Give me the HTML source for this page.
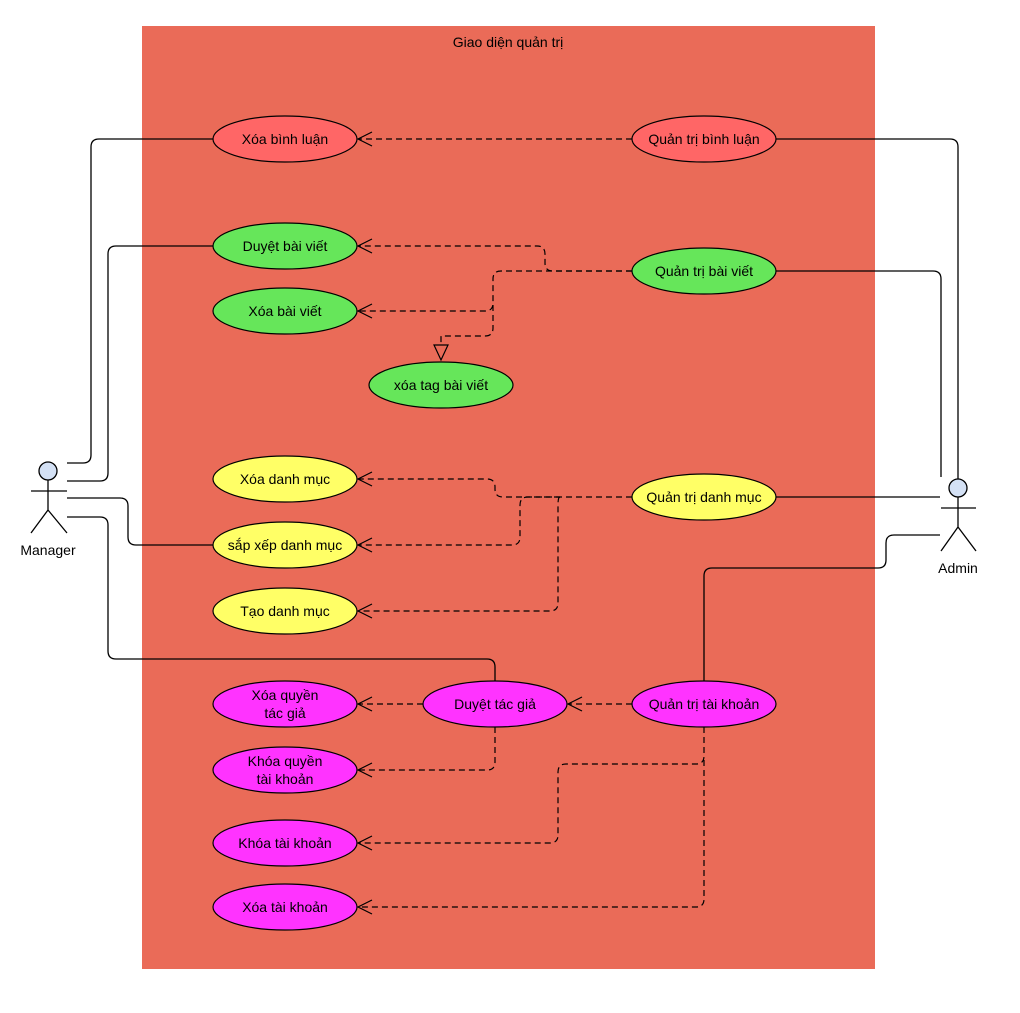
<!DOCTYPE html>
<html><head><meta charset="utf-8"><style>body{margin:0;background:#fff}svg{display:block}text{font-family:"Liberation Sans","DejaVu Sans",sans-serif;font-size:14px;text-anchor:middle}</style></head><body>
<svg width="1020" height="1013" viewBox="0 0 1020 1013" xmlns="http://www.w3.org/2000/svg">
<defs><marker id="a" markerWidth="20" markerHeight="20" refX="16" refY="8" orient="auto" markerUnits="userSpaceOnUse"><path d="M2,1 L16,8 L2,15" fill="none" stroke="#000" stroke-width="1.2" stroke-dasharray="none"/></marker></defs>
<rect x="142" y="26" width="733" height="943" fill="#EA6B58"/>
<text x="508" y="47" font-size="13">Giao diện quản trị</text>
<g fill="none" stroke="#000" stroke-width="1.3">
<path d="M67,463 H83 Q91,463 91,455 V147 Q91,139 99,139 H213"/>
<path d="M67,481 H100 Q108,481 108,473 V254 Q108,246 116,246 H213"/>
<path d="M67,498 H120 Q128,498 128,506 V537 Q128,545 136,545 H213"/>
<path d="M67,517 H100 Q108,517 108,525 V651 Q108,659 116,659 H487 Q495,659 495,667 V681"/>
<path d="M941,477 V279 Q941,271 933,271 H776"/>
<path d="M958,479 V147 Q958,139 950,139 H776"/>
<path d="M940,497 H776"/>
<path d="M940,535 H894 Q886,535 886,543 V560 Q886,568 878,568 H712 Q704,568 704,576 V681"/>
</g>
<g stroke="#000" stroke-width="1.2">
<g fill="#FF6666"><ellipse cx="285" cy="139" rx="72" ry="23"/><ellipse cx="704" cy="139" rx="72" ry="23"/></g>
<g fill="#66E65A"><ellipse cx="285" cy="246" rx="72" ry="23"/><ellipse cx="285" cy="311" rx="72" ry="23"/><ellipse cx="441" cy="385" rx="72" ry="23"/><ellipse cx="704" cy="271" rx="72" ry="23"/></g>
<g fill="#FFFF66"><ellipse cx="285" cy="479" rx="72" ry="23"/><ellipse cx="285" cy="545" rx="72" ry="23"/><ellipse cx="285" cy="611" rx="72" ry="23"/><ellipse cx="704" cy="497" rx="72" ry="23"/></g>
<g fill="#FF33FF"><ellipse cx="285" cy="704" rx="72" ry="23"/><ellipse cx="495" cy="704" rx="72" ry="23"/><ellipse cx="704" cy="704" rx="72" ry="23"/><ellipse cx="285" cy="770" rx="72" ry="23"/><ellipse cx="285" cy="843" rx="72" ry="23"/><ellipse cx="285" cy="907" rx="72" ry="23"/></g>
</g>
<g fill="none" stroke="#000" stroke-width="1.2" stroke-dasharray="6,4">
<path d="M632,139 H358" marker-end="url(#a)"/>
<path d="M632,271 H553 Q545,271 545,263 V254 Q545,246 537,246 H358" marker-end="url(#a)"/>
<path d="M632,271 H501 Q493,271 493,279 V303 Q493,311 485,311 H358" marker-end="url(#a)"/>
<path d="M493,305 V328 Q493,336 485,336 H441 V344"/>
<path d="M632,497 H503 Q495,497 495,489 V487 Q495,479 487,479 H358" marker-end="url(#a)"/>
<path d="M560,497 H528 Q520,497 520,505 V537 Q520,545 512,545 H358" marker-end="url(#a)"/>
<path d="M560,497 Q558,497 558,505 V603 Q558,611 550,611 H358" marker-end="url(#a)"/>
<path d="M632,704 H568" marker-end="url(#a)"/>
<path d="M423,704 H358" marker-end="url(#a)"/>
<path d="M495,727 V762 Q495,770 487,770 H358" marker-end="url(#a)"/>
<path d="M704,727 V756 Q704,764 696,764 H566 Q558,764 558,772 V835 Q558,843 550,843 H358" marker-end="url(#a)"/>
<path d="M704,760 V899 Q704,907 696,907 H358" marker-end="url(#a)"/>
</g>
<path d="M434,345 L448,345 L441,360 Z" fill="none" stroke="#000" stroke-width="1.2"/>
<g>
<text x="285" y="144">Xóa bình luận</text><text x="704" y="144">Quản trị bình luận</text>
<text x="285" y="251">Duyệt bài viết</text><text x="285" y="316">Xóa bài viết</text><text x="441" y="390">xóa tag bài viết</text><text x="704" y="276">Quản trị bài viết</text>
<text x="285" y="484">Xóa danh mục</text><text x="285" y="550">sắp xếp danh mục</text><text x="285" y="616">Tạo danh mục</text><text x="704" y="502">Quản trị danh mục</text>
<text x="285" y="700">Xóa quyền</text><text x="285" y="718">tác giả</text><text x="495" y="709">Duyệt tác giả</text><text x="704" y="709">Quản trị tài khoản</text>
<text x="285" y="766">Khóa quyền</text><text x="285" y="784">tài khoản</text><text x="285" y="848">Khóa tài khoản</text><text x="285" y="912">Xóa tài khoản</text>
</g>
<g stroke="#000" stroke-width="1.3" fill="none">
<circle cx="48" cy="471" r="9" fill="#D4E1F5"/><path d="M48,480 V510 M31,491 H67 M48,510 L31,533 M48,510 L67,533"/>
<circle cx="958" cy="488" r="9" fill="#D4E1F5"/><path d="M958,497 V527 M941,508 H976 M958,527 L941,551 M958,527 L976,551"/>
</g>
<text x="48" y="555" font-size="13">Manager</text>
<text x="958" y="573" font-size="13">Admin</text>
</svg>
</body></html>
